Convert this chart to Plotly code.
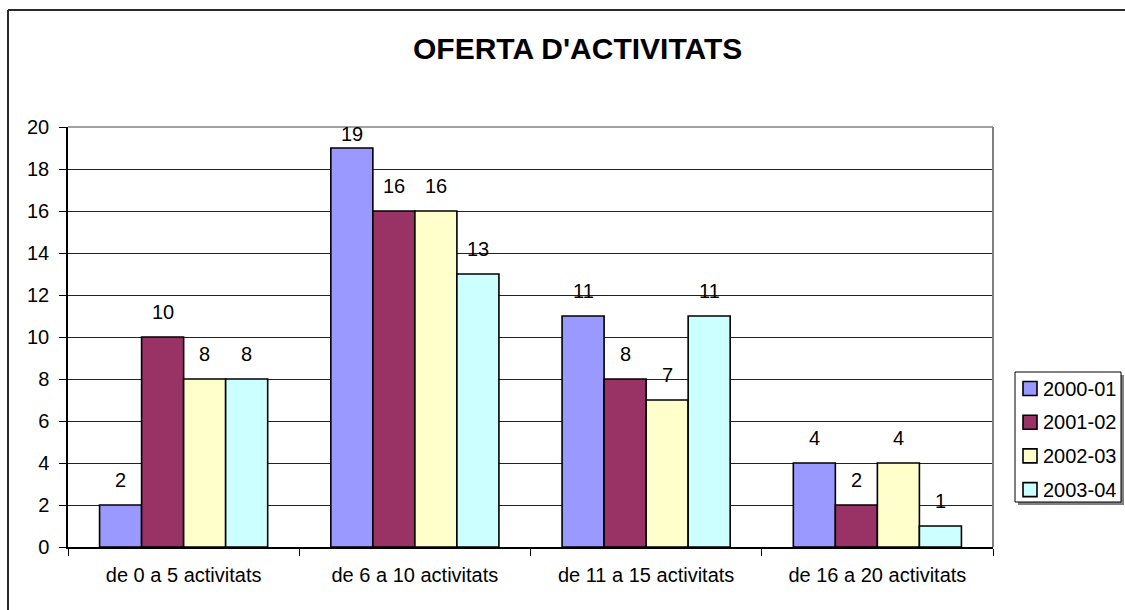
import plotly.graph_objects as go

categories = ["de 0 a 5 activitats", "de 6 a 10 activitats",
              "de 11 a 15 activitats", "de 16 a 20 activitats"]
series_names = ["2000-01", "2001-02", "2002-03", "2003-04"]
v_2000_01 = [2, 19, 11, 4]
v_2001_02 = [10, 16, 8, 2]
v_2002_03 = [8, 16, 7, 4]
v_2003_04 = [8, 13, 11, 1]
series_values = [v_2000_01, v_2001_02, v_2002_03, v_2003_04]
colors = ["#9999FF", "#993366", "#FFFFCC", "#CCFFFF"]
y_ticks = list(range(0, 21, 2))

W, H = 1125, 610
# plot area in pixels
L, R, T, B = 68, 993, 127, 547
FONT = "Liberation Sans, Arial, sans-serif"
BARGAP = 0.273
YMAX = 20


def px(x):
    return (x - L) / (R - L)


def py(y):
    return (B - y) / (B - T)


fig = go.Figure()
for name, vals, col in zip(series_names, series_values, colors):
    fig.add_trace(go.Bar(
        name=name, x=categories, y=vals,
        marker=dict(color=col, line=dict(color="#000000", width=1.6)),
        showlegend=False, hoverinfo="x+y+name",
    ))

# data labels
n = len(series_names)
bw = (1 - BARGAP) / n
ppu = (B - T) / YMAX
annotations = []
for i, vals in enumerate(series_values):
    for j, v in enumerate(vals):
        shift = min(12, (YMAX - v) * ppu - 20)
        annotations.append(dict(
            x=j + (i - (n - 1) / 2) * bw, y=v, xref="x", yref="y",
            text=str(v), showarrow=False, yanchor="bottom", yshift=shift,
            font=dict(family=FONT, size=20, color="#000000"),
        ))

# title
annotations.append(dict(
    x=px(577), y=py(48), xref="paper", yref="paper",
    text="<b>OFERTA D'ACTIVITATS</b>", showarrow=False,
    xanchor="center", yanchor="middle",
    font=dict(family=FONT, size=30, color="#000000"),
))

shapes = []
# outer chart border (top and left visible)
shapes.append(dict(type="line", xref="paper", yref="paper",
                   x0=px(8), y0=py(10), x1=px(1135), y1=py(10),
                   line=dict(color="#2a2a2a", width=2), layer="above"))
shapes.append(dict(type="line", xref="paper", yref="paper",
                   x0=px(8), y0=py(10), x1=px(8), y1=py(620),
                   line=dict(color="#2a2a2a", width=2), layer="above"))
# plot area border top/right (gray)
shapes.append(dict(type="line", xref="paper", yref="paper",
                   x0=0, y0=1, x1=1, y1=1,
                   line=dict(color="#808080", width=1.5), layer="above"))
shapes.append(dict(type="line", xref="paper", yref="paper",
                   x0=1, y0=0, x1=1, y1=1,
                   line=dict(color="#808080", width=2), layer="above"))

# legend (box with shadow, keys and labels)
lx0, ly0, lx1, ly1 = 1015, 372, 1121, 502
shapes.append(dict(type="rect", xref="paper", yref="paper",
                   x0=px(lx0 + 3), y0=py(ly0 + 3), x1=px(lx1 + 3), y1=py(ly1 + 3),
                   fillcolor="#808080", line=dict(width=0), layer="above"))
shapes.append(dict(type="rect", xref="paper", yref="paper",
                   x0=px(lx0), y0=py(ly0), x1=px(lx1), y1=py(ly1),
                   fillcolor="#FFFFFF", line=dict(color="#000000", width=1),
                   layer="above"))
for k, (name, col) in enumerate(zip(series_names, colors)):
    cy = 388.5 + k * 33.7
    shapes.append(dict(type="rect", xref="paper", yref="paper",
                       x0=px(1023), y0=py(cy - 7), x1=px(1037), y1=py(cy + 7),
                       fillcolor=col, line=dict(color="#000000", width=1.6),
                       layer="above"))
    annotations.append(dict(
        x=px(1041), y=py(cy), xref="paper", yref="paper", text=name,
        showarrow=False, xanchor="left", yanchor="middle",
        font=dict(family=FONT, size=20, color="#000000"),
    ))

fig.update_layout(
    width=W, height=H,
    margin=dict(l=L, r=W - R, t=T, b=H - B, pad=0),
    paper_bgcolor="#FFFFFF", plot_bgcolor="#FFFFFF",
    barmode="group", bargap=BARGAP, bargroupgap=0,
    font=dict(family=FONT, size=20, color="#000000"),
    showlegend=False,
    annotations=annotations, shapes=shapes,
    xaxis=dict(
        type="category", tickson="boundaries", ticks="outside", ticklen=7,
        tickcolor="#000000", tickwidth=1, showline=True, linecolor="#000000",
        linewidth=1.5, showgrid=False, ticklabelstandoff=9,
        tickfont=dict(family=FONT, size=20, color="#000000"),
    ),
    yaxis=dict(
        range=[0, YMAX], tickvals=y_ticks, ticks="outside", ticklen=7,
        tickcolor="#000000", tickwidth=1, showline=True, linecolor="#000000",
        linewidth=1.5, showgrid=True, gridcolor="#222222", gridwidth=1,
        zeroline=False, ticklabelstandoff=6,
        tickfont=dict(family=FONT, size=20, color="#000000"),
    ),
)

fig.write_html(
    "out.html",
    config={"displayModeBar": False},
    post_script="document.body.style.margin='0';"
                "document.body.style.overflow='hidden';",
)
